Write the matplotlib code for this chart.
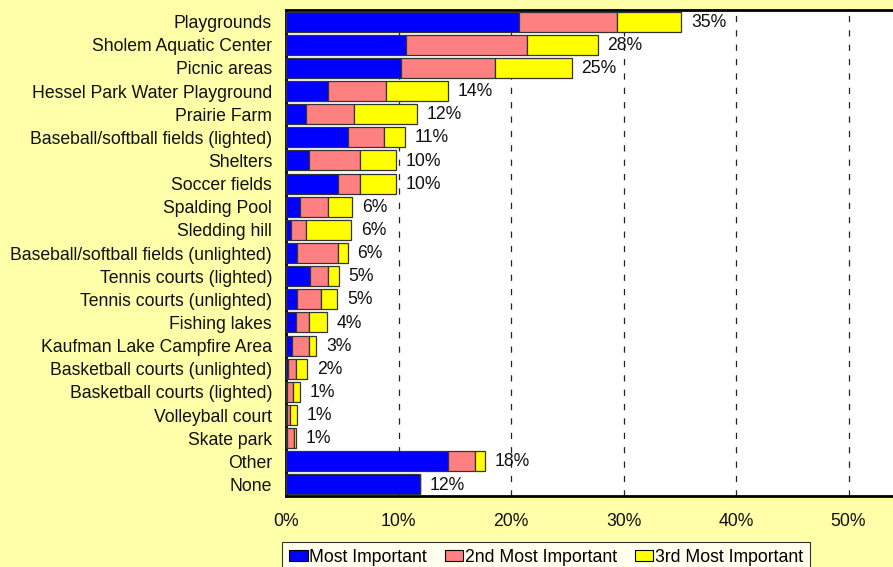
import matplotlib
matplotlib.use("Agg")
import matplotlib.pyplot as plt
from matplotlib.patches import Patch
import numpy as np

categories = [
    "Playgrounds", "Sholem Aquatic Center", "Picnic areas", "Hessel Park Water Playground",
    "Prairie Farm", "Baseball/softball fields (lighted)", "Shelters", "Soccer fields",
    "Spalding Pool", "Sledding hill", "Baseball/softball fields (unlighted)",
    "Tennis courts (lighted)", "Tennis courts (unlighted)", "Fishing lakes",
    "Kaufman Lake Campfire Area", "Basketball courts (unlighted)", "Basketball courts (lighted)",
    "Volleyball court", "Skate park", "Other", "None",
]
most_important = [20.7, 10.7, 10.2, 3.7, 1.8, 5.5, 2.0, 4.6, 1.2, 0.4, 0.95,
                  2.1, 0.95, 0.85, 0.55, 0.15, 0.1, 0.1, 0.05, 14.4, 11.9]
second_important = [8.75, 10.7, 8.4, 5.2, 4.2, 3.2, 4.6, 2.0, 2.5, 1.35, 3.65,
                    1.6, 2.2, 1.2, 1.45, 0.7, 0.55, 0.25, 0.7, 2.4, 0.0]
third_important = [5.7, 6.3, 6.8, 5.5, 5.6, 1.9, 3.2, 3.2, 2.2, 4.05, 0.9,
                   1.0, 1.4, 1.6, 0.7, 1.05, 0.6, 0.65, 0.1, 0.9, 0.0]
total_labels = ["35%", "28%", "25%", "14%", "12%", "11%", "10%", "10%", "6%", "6%", "6%",
                "5%", "5%", "4%", "3%", "2%", "1%", "1%", "1%", "18%", "12%"]
series_names = ["Most Important", "2nd Most Important", "3rd Most Important"]
xticks = [0, 10, 20, 30, 40, 50]
xtick_labels = ["0%", "10%", "20%", "30%", "40%", "50%"]

colors = ["#0000FF", "#FF8080", "#FFFF00"]
bg = "#FFFFAA"
FS = 12.7

plt.rcParams["font.family"] = ["Liberation Sans", "DejaVu Sans"]

W, H = 893, 567
fig = plt.figure(figsize=(W / 100, H / 100), dpi=100, facecolor=bg)
left_px, top_px, bottom_px = 286, 10, 496
ax = fig.add_axes([left_px / W, 1 - bottom_px / H, (W - left_px) / W, (bottom_px - top_px) / H])
ax.set_facecolor("white")

y = np.arange(len(categories))
m = np.array(most_important)
s = np.array(second_important)
t = np.array(third_important)
bh = 0.86
ek = dict(edgecolor="#333333", linewidth=0.9)
ax.barh(y, m, height=bh, color=colors[0], **ek, zorder=3)
ax.barh(y, s, left=m, height=bh, color=colors[1], **ek, zorder=3)
ax.barh(y, t, left=m + s, height=bh, color=colors[2], **ek, zorder=3)

totals = m + s + t
for yi, tot, lab in zip(y, totals, total_labels):
    ax.annotate(lab, (tot, yi), xytext=(7, -0.5), textcoords="offset points",
                ha="left", va="center", fontsize=FS, color="#111111", zorder=4)

xmax = (W - left_px) / 11.25
ax.set_xlim(0, xmax)
ax.set_ylim(len(categories) - 0.5, -0.5)
ax.set_yticks(y)
ax.set_yticklabels(categories, fontsize=FS, color="#111111")
ax.set_xticks(xticks)
ax.set_xticklabels(xtick_labels, fontsize=FS, color="#111111")
ax.tick_params(axis="y", length=0, pad=10)
ax.tick_params(axis="x", length=0, pad=12)

for xv in xticks[1:]:
    ax.axvline(xv, color="#222222", linewidth=0.9, linestyle=(0, (5, 6.5)), zorder=1)

for sp in ["top", "left", "bottom"]:
    ax.spines[sp].set_linewidth(2)
    ax.spines[sp].set_color("black")
ax.spines["right"].set_visible(False)

handles = [Patch(facecolor=c, edgecolor="black", linewidth=0.8, label=n)
           for c, n in zip(colors, series_names)]
leg = fig.legend(handles=handles, loc="upper left", bbox_to_anchor=(282 / W, 1 - 541.7 / H),
                 ncol=3, fontsize=FS, frameon=True, fancybox=False, borderpad=0.4,
                 handlelength=1.05, handleheight=0.55, handletextpad=0.1,
                 columnspacing=1.0, borderaxespad=0)
leg.get_frame().set_edgecolor("black")
leg.get_frame().set_linewidth(0.8)
leg.get_frame().set_facecolor("white")

fig.savefig("out.png", dpi=100, facecolor=bg)
